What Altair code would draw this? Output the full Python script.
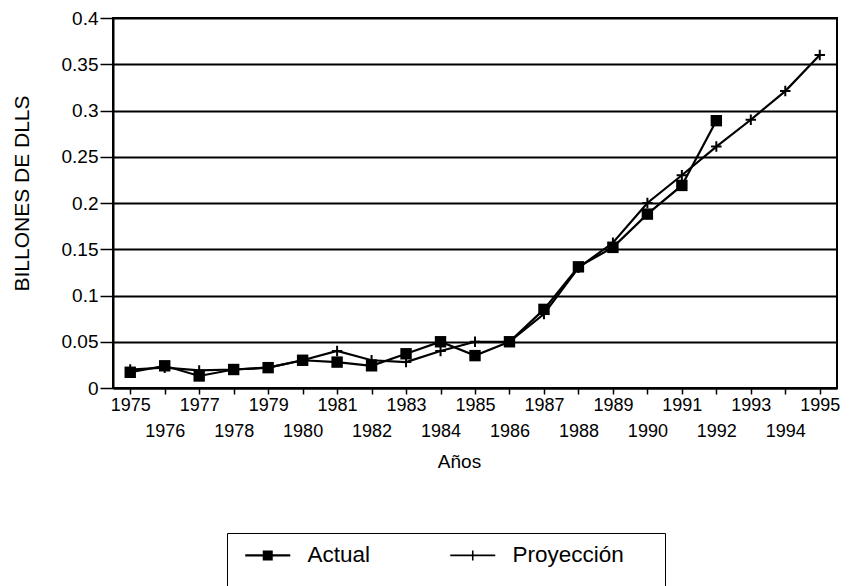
import altair as alt
import pandas as pd

years = [1975, 1976, 1977, 1978, 1979, 1980, 1981, 1982, 1983, 1984, 1985,
         1986, 1987, 1988, 1989, 1990, 1991, 1992, 1993, 1994, 1995]
actual = [0.017, 0.024, 0.013, 0.020, 0.022, 0.030, 0.028, 0.024, 0.037, 0.050,
          0.035, 0.050, 0.085, 0.131, 0.152, 0.188, 0.219, 0.289]
proyeccion = [0.020, 0.022, 0.019, 0.020, 0.022, 0.030, 0.040, 0.030, 0.028, 0.040,
              0.050, 0.050, 0.080, 0.130, 0.157, 0.200, 0.230, 0.261, 0.290, 0.321, 0.360]
series = ["Actual", "Proyección"]
y_ticks = [0, 0.05, 0.1, 0.15, 0.2, 0.25, 0.3, 0.35, 0.4]

rows = []
for yr, v in zip(years, actual):
    rows.append({"Año": yr, "Valor": v, "Serie": series[0]})
for yr, v in zip(years, proyeccion):
    rows.append({"Año": yr, "Valor": v, "Serie": series[1]})
df = pd.DataFrame(rows)
df["Linea"] = df["Serie"]

FONT = "Liberation Sans"

x = alt.X("Año:O", scale=alt.Scale(type="point", padding=0.5, domain=years),
          axis=alt.Axis(title="Años", labelAngle=0, labelOverlap=False,
                        labelExpr="toNumber(datum.value) % 2 == 0 ? ['', datum.label] : datum.label",
                        labelLineHeight=26, labelBaseline="top", labelPadding=2,
                        labelFontSize=18, labelFont=FONT, labelColor="black",
                        tickSize=6, tickColor="black", tickWidth=1.5,
                        domainColor="black", domainWidth=2,
                        titleFont=FONT, titleFontSize=19, titleFontWeight="normal",
                        titleColor="black", titleX=346, titleY=73,
                        titleBaseline="middle", titleAlign="center"))
y = alt.Y("Valor:Q", scale=alt.Scale(domain=[0, 0.4], nice=False, zero=True),
          axis=alt.Axis(title="BILLONES DE DLLS", values=y_ticks, format="~g",
                        labelFontSize=19, labelFont=FONT, labelColor="black",
                        labelPadding=2,
                        tickSize=13, tickColor="black", tickWidth=1.5,
                        domainColor="black", domainWidth=2,
                        grid=True, gridColor="black", gridWidth=2, gridOpacity=1,
                        titleFont=FONT, titleFontSize=21, titleFontWeight="normal",
                        titleColor="black", titleAngle=-90, titleX=-91, titleY=175,
                        titleBaseline="middle", titleAlign="center"))

base = alt.Chart(df)

lines = base.mark_line(strokeWidth=2.2, color="black").encode(
    x=x, y=y, detail="Linea:N",
)

squares = base.transform_filter(alt.datum.Serie == "Actual").mark_square(
    size=130, color="black", opacity=1, filled=True
).encode(x=x, y=y)

crosses = base.transform_filter(alt.datum.Serie == "Proyección").mark_point(
    shape="M-1,0H1M0,-1V1", size=110, stroke="black", strokeWidth=2, opacity=1, filled=False
).encode(x=x, y=y)

# legend symbols drawn as filled shapes (nominal size 8px = 2 units, so 1 unit = 4 px)
sym_actual = ("M-1,-0.3H10.25V0.3H-1Z"
              "M3.375,-1.25H5.875V1.25H3.375Z")
sym_proy = ("M-1,-0.2H10.25V0.2H-1Z"
            "M4.43,-1.25H4.82V1.25H4.43Z")

# blank (white) bottom title only widens/extends the legend frame
frame_spacer = "\u2014" * 52

legend_layer = base.transform_filter("false").mark_point(
    fill="black", fillOpacity=1, stroke="black", strokeWidth=2, opacity=1, filled=True
).encode(
    x=x, y=y,
    shape=alt.Shape("Serie:N", scale=alt.Scale(domain=series, range=[sym_actual, sym_proy]),
                    legend=alt.Legend(title=frame_spacer, titleOrient="bottom", titleFontSize=8,
                                      titleColor="white", titleLimit=800, titleFont=FONT,
                                      titleFontWeight="normal", titlePadding=0, titleAnchor="start",
                                      orient="none", legendX=114, legendY=515,
                                      direction="horizontal", strokeColor="black",
                                      padding=11, symbolSize=64, symbolStrokeWidth=2,
                                      symbolFillColor="black", symbolStrokeColor="black",
                                      labelFont=FONT, labelFontSize=22.5, labelColor="black",
                                      labelOffset=47, columnPadding=72, labelLimit=400)),
)

chart = alt.layer(lines, squares, crosses, legend_layer).properties(
    width=724, height=370,
    autosize=alt.AutoSizeParams(type="none"),
    padding={"left": 105, "top": 10, "right": 5, "bottom": 200},
    background="white",
).configure_view(stroke="black", strokeWidth=2)

chart.save("out.html", embed_options={"renderer": "svg", "actions": False})
